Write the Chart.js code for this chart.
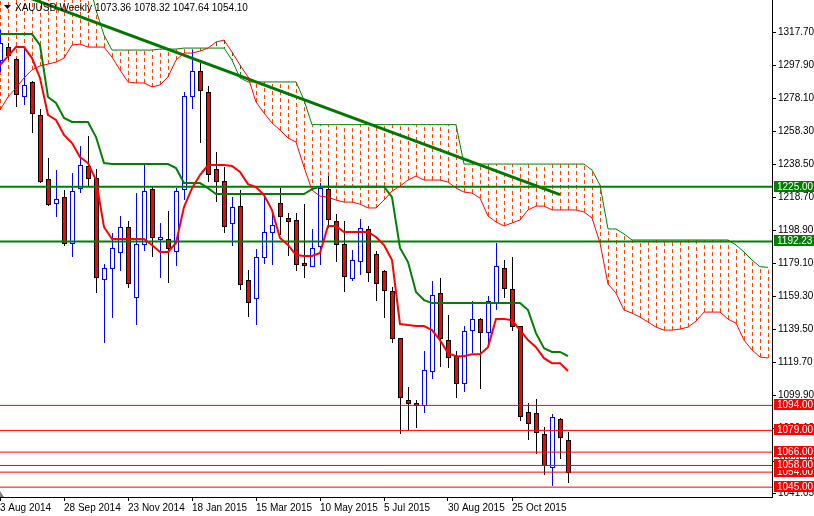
<!DOCTYPE html>
<html>
<head>
<meta charset="utf-8">
<script src="https://cdn.jsdelivr.net/npm/chart.js@4.4.1/dist/chart.umd.min.js"></script>
<style>
  html, body { margin: 0; padding: 0; background: #fff; }
  #wrap { width: 814px; height: 516px; position: relative; }
</style>
</head>
<body>
<div id="wrap"><canvas id="goldChart"></canvas></div>
<script>
// XAUUSD weekly bars, index 0 = week of 3 Aug 2014
const open = [1301.0,1308.7,1301.5,1279.4,1287.8,1268.0,1229.6,1215.2,1218.8,1191.3,
  1224.2,1237.4,1230.2,1169.7,1176.3,1185.9,1200.9,1158.9,1190.7,1223.6,
  1193.7,1193.7,1186.5,1223.6,1279.4,1294.3,1281.8,1235.6,1228.4,1203.3,
  1213.4,1169.1,1158.3,1182.9,1197.9,1215.2,1206.3,1205.1,1179.3,1177.5,
  1189.5,1223.6,1204.5,1190.7,1170.3,1180.5,1199.7,1184.7,1174.5,1162.5,
  1134.3,1097.2,1095.4,1094.2,1114.6,1161.3,1133.1,1123.5,1107.4,1139.1,
  1145.7,1137.9,1155.3,1176.3,1163.7,1141.5,1090.0,1089.4,1076.8,1057.0,
  1085.8,1073.36];
const high = [1318.9,1311.1,1302.1,1308.1,1288.4,1271.6,1242.2,1235.0,1223.0,1233.2,
  1249.4,1255.4,1235.6,1178.7,1197.3,1207.5,1204.5,1221.2,1238.6,1224.8,
  1203.3,1210.4,1224.2,1281.8,1306.9,1299.1,1285.4,1245.8,1236.8,1218.8,
  1223.0,1175.1,1187.7,1220.0,1208.6,1224.2,1209.2,1209.2,1214.6,1199.7,
  1227.2,1231.4,1208.6,1204.5,1187.1,1205.7,1201.5,1186.5,1175.1,1164.9,
  1134.3,1105.0,1097.2,1126.5,1168.5,1170.3,1148.1,1126.5,1141.5,1156.5,
  1146.3,1159.5,1191.3,1181.1,1182.9,1141.5,1095.4,1097.8,1081.0,1088.8,
  1086.4,1078.32];
const low = [1293.8,1301.0,1272.8,1274.0,1257.2,1227.2,1213.4,1206.9,1189.5,1182.9,
  1221.2,1225.4,1161.3,1131.3,1146.3,1174.5,1164.3,1142.1,1186.5,1182.9,
  1170.3,1167.3,1177.5,1217.0,1271.6,1251.2,1227.8,1215.8,1197.3,1189.5,
  1163.1,1146.9,1142.1,1178.7,1178.1,1196.1,1183.5,1174.5,1170.3,1176.9,
  1178.1,1200.3,1179.9,1161.9,1168.5,1172.1,1167.9,1156.5,1146.3,1131.3,
  1076.8,1079.2,1080.4,1089.4,1109.8,1117.0,1116.4,1098.4,1102.0,1125.3,
  1103.8,1130.1,1151.1,1158.3,1138.5,1084.6,1073.2,1064.8,1052.2,1045.6,
  1061.8,1047.64];
const close = [1311.1,1303.9,1280.6,1286.0,1269.2,1228.4,1214.6,1217.6,1191.3,1222.4,
  1238.0,1230.2,1170.9,1176.3,1188.3,1200.9,1167.3,1190.7,1222.4,1194.9,
  1194.9,1188.3,1222.4,1279.4,1294.3,1283.0,1232.6,1228.4,1201.5,1212.8,
  1166.7,1155.9,1182.9,1197.9,1202.1,1207.5,1204.5,1178.7,1178.1,1188.3,
  1224.2,1205.7,1190.7,1171.5,1181.1,1200.3,1173.9,1167.3,1163.1,1134.3,
  1099.0,1095.4,1094.2,1115.2,1160.1,1134.3,1122.9,1107.4,1138.5,1145.7,
  1137.9,1156.5,1177.5,1164.3,1141.5,1087.6,1083.4,1078.0,1058.2,1087.0,
  1075.0,1054.10];

// Ichimoku lines
const tenkan = [1297.9,1303.3,1308.7,1308.7,1302.1,1290.2,1268.0,1265.0,1256.0,1251.2,
  1242.8,1239.2,1229.0,1200.9,1193.7,1193.7,1193.7,1193.7,1193.7,1190.1,
  1185.9,1185.9,1191.3,1212.8,1224.2,1232.0,1238.0,1238.0,1238.0,1237.4,
  1233.8,1226.6,1224.8,1220.0,1211.0,1194.3,1190.1,1184.1,1183.5,1183.5,
  1185.3,1201.5,1201.5,1197.9,1197.9,1197.9,1197.9,1194.9,1190.1,1181.1,
  1142.7,1142.1,1141.5,1141.5,1139.1,1133.1,1125.3,1123.5,1123.5,1124.7,
  1124.7,1128.9,1145.7,1145.7,1145.1,1139.1,1133.1,1128.9,1122.3,1119.3,
  1119.3,1114.6];
const kijun = [1316.5,1316.5,1316.5,1316.5,1316.5,1309.9,1278.8,1275.2,1266.2,1263.8,
  1263.8,1263.8,1254.8,1239.2,1238.6,1238.6,1238.6,1238.6,1238.6,1238.6,
  1238.6,1238.6,1236.2,1227.2,1227.2,1227.2,1224.2,1220.6,1220.6,1220.6,
  1220.6,1220.6,1220.6,1220.6,1220.6,1220.6,1220.6,1220.6,1220.6,1223.6,
  1225.0,1225.0,1225.0,1225.0,1225.0,1225.0,1225.0,1225.0,1225.0,1218.8,
  1188.3,1179.9,1161.9,1157.1,1155.3,1155.3,1155.3,1155.3,1155.3,1155.3,
  1155.3,1155.3,1155.3,1155.3,1155.3,1155.3,1151.1,1137.3,1128.3,1126.0,
  1126.0,1123.5];
// cloud, already shifted forward (runs 25 bars past the last candle)
const spanA = [1271.0,1278.8,1284.2,1290.2,1295.0,1297.4,1298.5,1299.7,1302.1,1309.9,
  1310.5,1308.7,1308.7,1308.7,1302.7,1295.0,1287.8,1287.2,1287.2,1284.8,
  1286.0,1290.8,1300.9,1305.1,1305.1,1306.3,1308.1,1311.7,1312.9,1305.7,
  1297.9,1290.8,1275.8,1269.2,1263.2,1259.0,1254.2,1251.8,1236.8,1223.0,
  1219.4,1218.8,1217.0,1215.8,1215.8,1214.6,1212.3,1212.3,1217.0,1222.4,
  1225.4,1229.0,1231.4,1229.0,1229.0,1229.0,1227.8,1224.2,1221.8,1221.2,
  1218.2,1207.5,1203.9,1201.5,1203.3,1205.1,1211.1,1213.4,1213.4,1211.1,
  1211.1,1211.1,1211.1,1209.9,1206.3,1191.3,1166.7,1161.3,1151.1,1149.3,
  1146.9,1143.9,1140.9,1139.1,1139.1,1139.7,1140.9,1144.5,1149.9,1149.9,
  1149.9,1145.7,1143.3,1133.1,1127.2,1123.0,1122.4];
const spanB = [1350,1350,1350,1350,1350,1350,1350,1350,1350,1350,
  1350,1350,1330.9,1315.9,1306.9,1306.9,1306.9,1306.9,1306.9,1306.9,
  1307.5,1307.5,1307.5,1308.1,1308.1,1308.1,1308.1,1308.1,1308.1,1300.9,
  1290.2,1287.8,1287.8,1287.8,1287.8,1287.8,1287.8,1287.8,1277.0,1262.2,
  1262.2,1262.2,1262.2,1262.2,1262.2,1262.2,1262.2,1262.2,1262.2,1262.2,
  1262.2,1262.2,1262.2,1262.2,1262.2,1262.2,1262.2,1262.2,1238.6,1238.6,
  1238.6,1238.6,1238.6,1238.6,1238.6,1238.6,1238.6,1238.6,1238.6,1238.6,
  1238.6,1238.6,1238.6,1238.6,1235.0,1226.0,1199.7,1199.7,1196.7,1193.1,
  1193.1,1193.1,1193.1,1193.1,1193.1,1193.1,1193.1,1193.1,1193.1,1193.1,
  1193.1,1193.1,1190.1,1185.9,1181.1,1177.1,1176.7];

// drawn objects
const greenLevels = [1225.00, 1192.23];
const redLevels = [1094.00, 1079.00, 1066.00, 1054.00, 1058.00, 1045.00];
const trendBars = [0, 70];
const trendPrices = [1344.7, 1220.3];

// axes
const tickBars = [0, 8, 16, 24, 32, 40, 48, 56, 64];
const tickLabels = ['3 Aug 2014', '28 Sep 2014', '23 Nov 2014', '18 Jan 2015', '15 Mar 2015',
  '10 May 2015', '5 Jul 2015', '30 Aug 2015', '25 Oct 2015'];
const priceTicks = [1317.70, 1297.90, 1278.10, 1258.30, 1238.50, 1218.70, 1198.90, 1179.10,
  1159.30, 1139.50, 1119.70, 1099.90, 1080.10, 1060.30, 1041.05];
const header = '1073.36 1078.32 1047.64 1054.10';

const toPts = arr => arr.map((v, i) => ({ x: i, y: v }));

Chart.defaults.font.family = '"Liberation Sans", Arial, sans-serif';
Chart.defaults.font.size = 10;
Chart.defaults.color = '#000';

const lineDs = (data, color, width) => ({
  data: data, borderColor: color, borderWidth: width, pointRadius: 0,
  fill: false, tension: 0, clip: 0
});

const levelSets = [];
greenLevels.forEach(v => levelSets.push(lineDs([{ x: 0, y: v }, { x: 96.5, y: v }], '#008000', 2)));
redLevels.forEach(v => levelSets.push(lineDs([{ x: 0, y: v }, { x: 96.5, y: v }], '#FF0000', 1)));

// hatching + candles, under the lines
const barsPlugin = {
  id: 'barsPlugin',
  beforeDatasetsDraw(chart) {
    const { ctx, chartArea: a, scales: { x, y } } = chart;
    ctx.save();
    ctx.beginPath();
    ctx.rect(a.left, a.top, a.right - a.left, a.bottom - a.top);
    ctx.clip();

    ctx.lineWidth = 1;
    ctx.setLineDash([4, 3]);
    for (let i = 0; i < spanA.length; i++) {
      const px = Math.round(x.getPixelForValue(i)) + 0.5;
      ctx.strokeStyle = spanA[i] > spanB[i] ? '#008000' : '#FF4500';
      ctx.beginPath();
      ctx.moveTo(px, y.getPixelForValue(spanA[i]));
      ctx.lineTo(px, y.getPixelForValue(spanB[i]));
      ctx.stroke();
    }
    ctx.setLineDash([]);

    for (let i = 0; i < close.length; i++) {
      const px = Math.round(x.getPixelForValue(i));
      const up = close[i] >= open[i];
      const yH = Math.round(y.getPixelForValue(high[i]));
      const yL = Math.round(y.getPixelForValue(low[i]));
      const yO = Math.round(y.getPixelForValue(open[i]));
      const yC = Math.round(y.getPixelForValue(close[i]));
      const top = Math.min(yO, yC);
      const h = Math.max(Math.abs(yO - yC), 1);
      const edge = up ? '#0000FF' : '#000000';
      ctx.strokeStyle = edge;
      ctx.beginPath();
      ctx.moveTo(px + 0.5, yH);
      ctx.lineTo(px + 0.5, yL);
      ctx.stroke();
      ctx.fillStyle = up ? '#FFFFFF' : '#FF0000';
      ctx.fillRect(px - 2, top, 5, h + 1);
      ctx.strokeRect(px - 1.5, top + 0.5, 4, h);
    }
    ctx.restore();
  },
  afterDraw(chart) {
    const { ctx, chartArea: a, scales: { y } } = chart;
    ctx.save();
    ctx.font = '10px "Liberation Sans", Arial, sans-serif';
    ctx.textBaseline = 'middle';
    const tag = (v, bg) => {
      const py = Math.round(y.getPixelForValue(v));
      ctx.fillStyle = bg;
      ctx.fillRect(a.right + 2, py - 6, 40, 11);
      ctx.fillStyle = '#FFFFFF';
      ctx.fillText(v.toFixed(2), a.right + 5, py);
    };
    greenLevels.forEach(v => tag(v, '#008000'));
    redLevels.forEach(v => tag(v, '#FF0000'));

    // header
    ctx.fillStyle = '#000';
    ctx.beginPath();
    ctx.moveTo(4, 5); ctx.lineTo(11, 5); ctx.lineTo(7.5, 9); ctx.closePath();
    ctx.fill();
    ctx.fillText('XAUUSD,Weekly', 15, 8);
    ctx.fillText(header, 95, 8);

    // shift marker
    ctx.fillStyle = '#808080';
    ctx.beginPath();
    ctx.moveTo(0, a.bottom - 6); ctx.lineTo(4, a.bottom); ctx.lineTo(0, a.bottom); ctx.closePath();
    ctx.fill();
    ctx.restore();
  }
};

new Chart(document.getElementById('goldChart'), {
  type: 'line',
  data: {
    datasets: [
      lineDs(toPts(spanA), '#FF0000', 1),
      lineDs(toPts(spanB), '#008000', 1),
      lineDs(toPts(tenkan), '#FF0000', 2),
      lineDs(toPts(kijun), '#008000', 2),
      ...levelSets,
      lineDs(trendBars.map((b, i) => ({ x: b, y: trendPrices[i] })), '#007800', 3)
    ]
  },
  options: {
    responsive: true,
    maintainAspectRatio: false,
    animation: false,
    devicePixelRatio: 1,
    layout: { padding: 0, autoPadding: false },
    plugins: { legend: { display: false }, tooltip: { enabled: false } },
    scales: {
      x: {
        type: 'linear', min: 0, max: 96.5, position: 'bottom',
        grid: { drawOnChartArea: false, drawTicks: true, tickLength: 4, color: '#000' },
        border: { display: true, color: '#000', width: 1 },
        ticks: {
          align: 'start', autoSkip: false, maxRotation: 0, padding: 1,
          callback: (v, i) => tickLabels[i]
        },
        afterBuildTicks: s => { s.ticks = tickBars.map(v => ({ value: v })); },
        afterFit: s => { s.height = 19; s.paddingLeft = 0; s.paddingRight = 0; }
      },
      y: {
        type: 'linear', min: 1039.1, max: 1336.9, position: 'right',
        grid: { drawOnChartArea: false, drawTicks: true, tickLength: 4, color: '#000' },
        border: { display: true, color: '#000', width: 1 },
        ticks: { autoSkip: false, padding: 2, callback: v => v.toFixed(2) },
        afterBuildTicks: s => { s.ticks = priceTicks.map(v => ({ value: v })); },
        afterFit: s => { s.width = 42; s.paddingTop = 0; s.paddingBottom = 0; }
      }
    }
  },
  plugins: [barsPlugin]
});
</script>
</body>
</html>
